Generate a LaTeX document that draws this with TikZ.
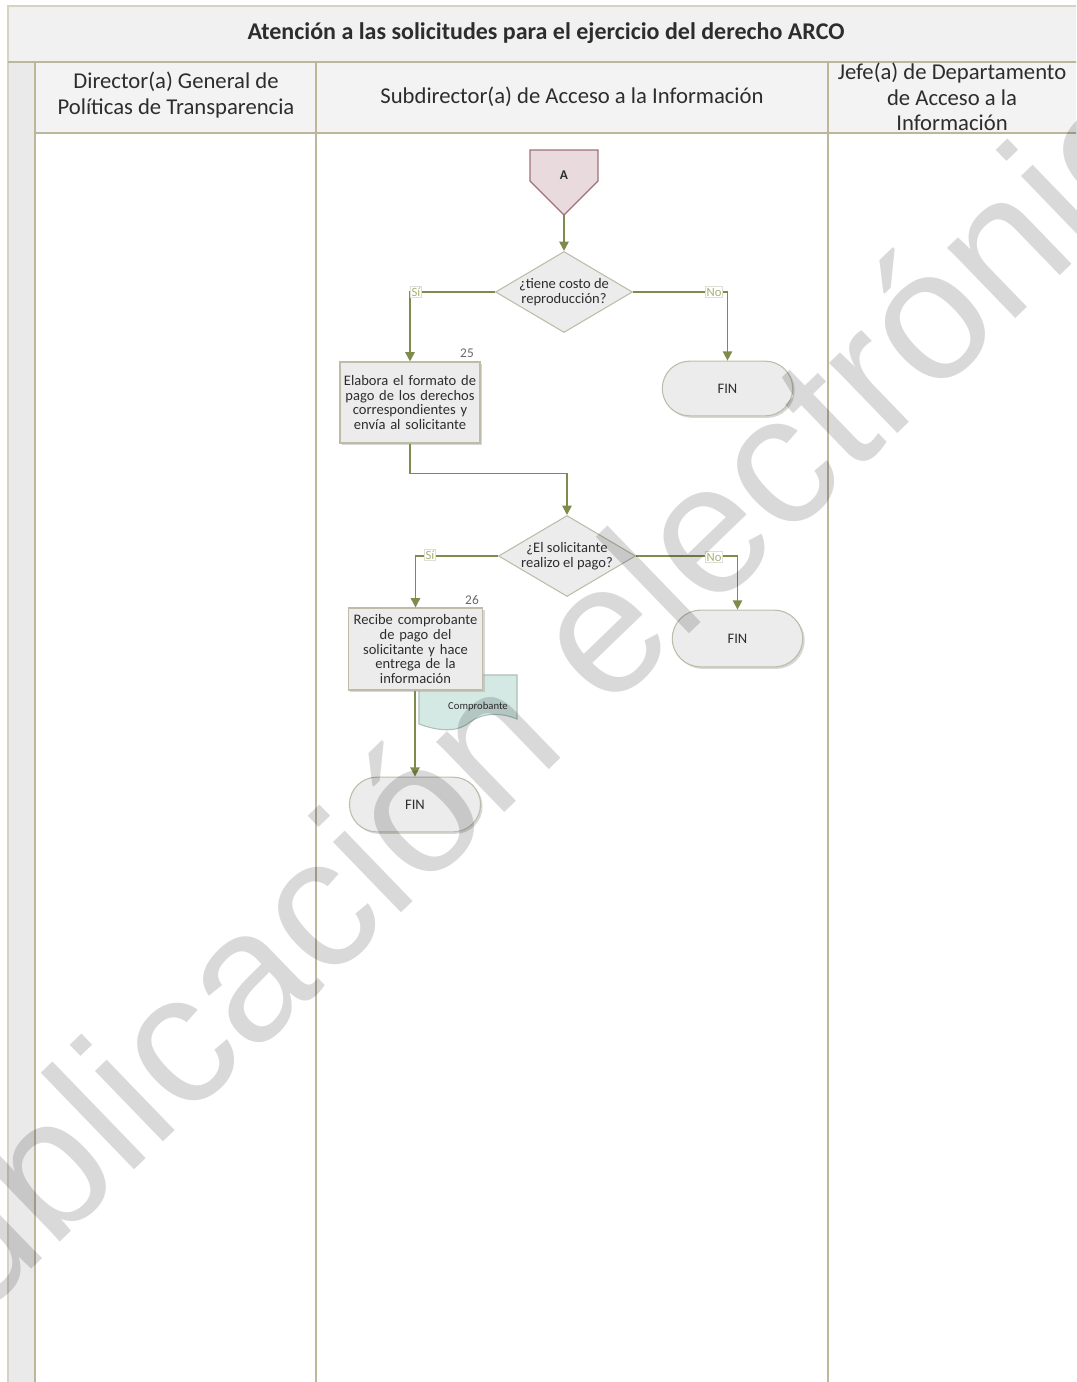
\documentclass[tikz,border=0pt]{standalone}
\usepackage{fontspec}
\setmainfont{Carlito}
\newfontfamily\wmfont{Liberation Sans}
\usetikzlibrary{shapes.geometric,shapes.misc,arrows.meta,shadows}
\definecolor{lanebd}{RGB}{188,182,155}
\definecolor{titlefill}{RGB}{241,241,241}
\definecolor{headfill}{RGB}{243,243,243}
\definecolor{stripfill}{RGB}{234,234,234}
\definecolor{shapefill}{RGB}{236,236,236}
\definecolor{shapebd}{RGB}{190,188,168}
\definecolor{conncol}{RGB}{125,140,75}
\definecolor{offfill}{RGB}{232,218,221}
\definecolor{offbd}{RGB}{160,112,122}
\definecolor{docfill}{RGB}{212,233,228}
\definecolor{docbd}{RGB}{170,192,182}
\definecolor{txt}{RGB}{45,45,45}
\definecolor{yncol}{RGB}{170,176,115}
\definecolor{ynbd}{RGB}{222,222,212}
\definecolor{numcol}{RGB}{105,105,105}
\tikzset{
  lane/.style={draw=lanebd, line width=1.5pt},
  headtxt/.style={align=center, font=\fontsize{17}{19}\selectfont, text=txt, inner sep=0pt},
  flowfont/.style={font=\fontsize{10.9}{11.2}\selectfont, text=txt},
  shad/.style={drop shadow={shadow xshift=1.5pt, shadow yshift=-1.5pt, fill=black!35, opacity=0.45}},
  flowbox/.style={rectangle, draw=shapebd, fill=shapefill, line width=0.8pt, align=center, flowfont, inner sep=1pt, shad},
  finbox/.style={rounded rectangle, draw=shapebd, fill=shapefill, line width=0.8pt, flowfont, minimum width=104.5pt, minimum height=41pt, shad},
  dia/.style={diamond, draw=shapebd, fill=shapefill, line width=0.8pt, minimum width=102.75pt, minimum height=60.75pt, inner sep=0pt},
  diatxt/.style={align=center, flowfont, inner sep=0pt},
  conn/.style={draw=conncol, line width=1.2pt, -{Triangle[length=7pt,width=7pt]}},
  yn/.style={fill=white, draw=ynbd, line width=0.5pt, inner sep=1pt, font=\fontsize{9.5}{9.5}\selectfont, text=yncol},
  num/.style={font=\fontsize{10}{10}\selectfont, text=numcol, inner sep=0pt}
}
\begin{document}
\begin{tikzpicture}[x=0.75pt,y=-0.75pt]
\useasboundingbox (0,0) rectangle (1076,1382);
% ---------- swimlane frame ----------
\begin{scope}
\clip (0,0) rectangle (1076,1382);
\fill[titlefill] (8,6) rectangle (1090,62);
\fill[headfill] (35,62) rectangle (1090,133);
\fill[stripfill] (8,62) rectangle (35,1395);
\draw[lane, draw=lanebd!60] (8,1395) -- (8,6) -- (1090,6);
\draw[lane] (8,62) -- (1090,62);
\draw[lane] (35,133) -- (1090,133);
\draw[lane] (35,62) -- (35,1395);
\draw[lane] (316,62) -- (316,1395);
\draw[lane] (828,62) -- (828,1395);
\end{scope}
\node[headtxt, font=\bfseries\fontsize{18}{20}\selectfont] (title) at (546,33) {Atención a las solicitudes para el ejercicio del derecho ARCO};
\node[headtxt] (h1) at (176,95) {Director(a) General de\\Políticas de Transparencia};
\node[headtxt] (h2) at (572,97) {Subdirector(a) de Acceso a la Información};
\node[headtxt] (h3) at (952,97) {Jefe(a) de Departamento\\de Acceso a la\\Información};
% ---------- off-page connector A ----------
\draw[fill=offfill, draw=offbd, line width=0.9pt] (530,150) -- (598,150) -- (598,181) -- (564,215) -- (530,181) -- cycle;
\node[flowfont, font=\bfseries\fontsize{10}{10}\selectfont] (A) at (564,175) {A};
\coordinate (Abot) at (564,215);
% ---------- decision 1 ----------
\node[dia] (d1) at (564,292) {};
\node[diatxt] (d1t) at (564,292) {¿tiene costo de\\reproducción?};
% ---------- step 25 ----------
\node[flowbox, minimum width=105pt, minimum height=60.75pt, text width=100pt] (b25) at (410,402.5) {Elabora el formato de\\pago de los derechos\\correspondientes y\\envía al solicitante};
\node[num] (n25) at (467,353) {25};
% ---------- FIN 1 ----------
\node[finbox] (f1) at (727.5,388.5) {FIN};
% ---------- decision 2 ----------
\node[dia] (d2) at (567,556) {};
\node[diatxt] (d2t) at (567,556) {¿El solicitante\\realizo el pago?};
% ---------- document Comprobante ----------
\draw[fill=docfill, draw=docbd, line width=0.8pt] (419,675) -- (517,675) -- (517,719)
  .. controls (500,712) and (482,713) .. (470,722)
  .. controls (457,733) and (438,731) .. (419,724) -- cycle;
\node[flowfont, font=\fontsize{8}{8}\selectfont] (doc) at (478,707) {Comprobante};
% ---------- step 26 ----------
\node[flowbox, minimum width=101pt, minimum height=61.5pt, text width=97pt] (b26) at (415.5,649) {Recibe comprobante\\de pago del\\solicitante y hace\\entrega de la\\información};
\node[num] (n26) at (472,600) {26};
% ---------- FIN 2, FIN 3 ----------
\node[finbox, minimum height=42.5pt] (f2) at (737.5,638.5) {FIN};
\node[finbox, minimum width=105pt] (f3) at (415,804.5) {FIN};
% ---------- connectors ----------
\draw[conn] (Abot) -- (d1.north);
\draw[conn] (d1.west) -| (b25.north);
\draw[conn] (d1.east) -| (f1.north);
\draw[conn] (b25.south) -- ++(0,30) -| (d2.north);
\draw[conn] (d2.west) -| (b26.north);
\draw[conn] (d2.east) -| (f2.north);
\draw[conn] (b26.south -| f3.north) -- (f3.north);
% ---------- yes / no labels ----------
\node[yn] (s1) at (416,292) {Sí};
\node[yn] (no1) at (714,292) {No};
\node[yn] (s2) at (430,555) {Sí};
\node[yn] (no2) at (714,557) {No};
% ---------- watermark ----------
\begin{scope}
\clip (0,0) rectangle (1076,1382);
\node[rotate=44, anchor=base west, inner sep=0pt, text=black, opacity=0.15,
      font=\wmfont\fontsize{139}{141}\selectfont] (wm) at (-112,1408) {Publicación electrónica};
\end{scope}
\end{tikzpicture}
\end{document}
